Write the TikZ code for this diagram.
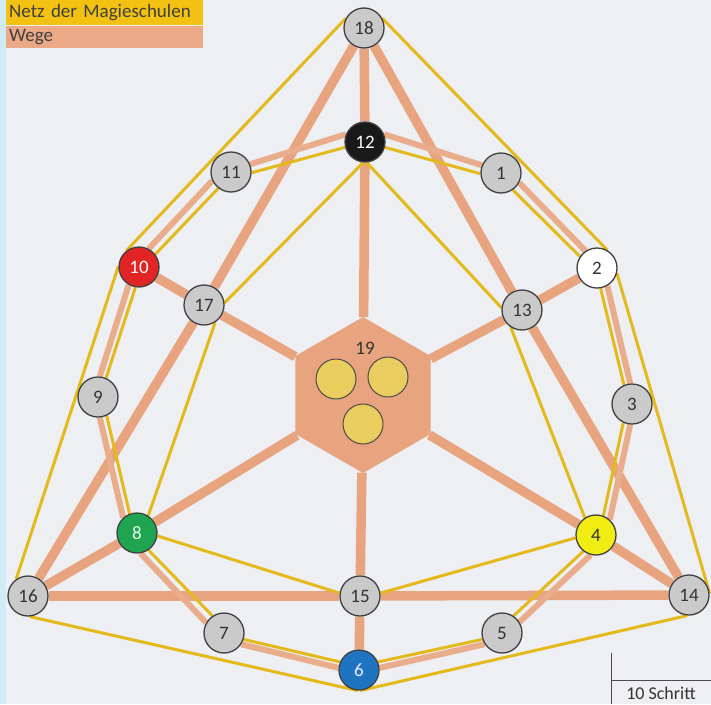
\documentclass[tikz,border=0pt]{standalone}
\usepackage{fontspec}
\setmainfont{Carlito}
\usepackage{tikz}
\usetikzlibrary{shapes,shapes.geometric,positioning,calc}

\definecolor{bggrau}{HTML}{EDEFF2}
\definecolor{randblau}{HTML}{CFEBF5}
\definecolor{netzgelb}{HTML}{E4B91C}
\definecolor{wegorange}{HTML}{E8A47F}
\definecolor{legendgelb}{HTML}{F2C112}
\definecolor{legendorange}{HTML}{EBA985}
\definecolor{schulgrau}{HTML}{CACACA}
\definecolor{kreisgelb}{HTML}{E9CD5E}
\definecolor{schulrot}{HTML}{E32424}
\definecolor{schulgruen}{HTML}{1FA552}
\definecolor{schulgelb}{HTML}{F1EC12}
\definecolor{schulblau}{HTML}{1F74C2}

\pgfdeclarelayer{grund}
\pgfdeclarelayer{wege}
\pgfsetlayers{grund,wege,main}

\begin{document}
\begin{tikzpicture}[x=1pt,y=-1pt,
  schule/.style={circle, draw=black!75, line width=1.3pt, fill=schulgrau,
                 minimum size=40pt, inner sep=0pt, text=black!80,
                 font=\fontsize{19}{19}\selectfont},
  zentrum/.style={regular polygon, regular polygon sides=6, shape border rotate=30,
                  fill=wegorange, minimum size=156pt, inner sep=0pt},
  disc/.style={circle, draw=black!70, line width=1pt, fill=kreisgelb,
               minimum size=40pt, inner sep=0pt},
  weg/.style={draw=wegorange, line width=9.5pt},
  pfad/.style={draw=wegorange!90, line width=6pt},
  netz/.style={draw=netzgelb, line width=3pt},
  legende/.style={anchor=north west, text width=191pt, inner xsep=3pt, inner ysep=0pt,
                  minimum height=24pt, align=left, text=black!75,
                  font=\fontsize{19}{19}\selectfont},
  mass/.style={draw=black!70, line width=0.8pt}
]
\begin{pgfonlayer}{grund}
\fill[bggrau] (0,0) rectangle (711,704);
\fill[randblau] (0,0) rectangle (6,704);
\end{pgfonlayer}
\useasboundingbox (0,0) rectangle (711,704);

\node[zentrum] (n19) at (363,395) {};
\node[text=black!80] (t19) at (365,348) {\fontsize{19}{19}\selectfont 19};
\node[disc] (d19a) at (336,379) {};
\node[disc] (d19b) at (388,377) {};
\node[disc] (d19c) at (363,424) {};

\node[schule] (n18) at (364,28) {18};
\node[schule, fill=black!90, text=white] (n12) at (365,142) {12};
\node[schule] (n11) at (231,172) {11};
\node[schule] (n1) at (501,173) {1};
\node[schule, fill=schulrot, text=white] (n10) at (139,267) {10};
\node[schule, fill=white] (n2) at (597,268) {2};
\node[schule] (n17) at (204,305) {17};
\node[schule] (n13) at (522,310) {13};
\node[schule] (n9) at (98,397) {9};
\node[schule] (n3) at (632,404) {3};
\node[schule, fill=schulgruen, text=green!10] (n8) at (137,533) {8};
\node[schule, fill=schulgelb] (n4) at (596,535) {4};
\node[schule] (n16) at (28,596) {16};
\node[schule] (n15) at (360,596) {15};
\node[schule] (n14) at (689,595) {14};
\node[schule] (n7) at (224,633) {7};
\node[schule] (n5) at (502,633) {5};
\node[schule, fill=schulblau, text=blue!8] (n6) at (359,670) {6};

\begin{pgfonlayer}{wege}
\draw[weg] (n18) -- (n12);
\draw[weg] (n18) -- (n17);
\draw[weg] (n17) -- (n16);
\draw[weg] (n18) -- (n13);
\draw[weg] (n13) -- (n14);
\draw[weg] (n16) -- (n15);
\draw[weg] (n15) -- (n14);
\draw[weg] (n10) -- (n17);
\draw[weg] (n2) -- (n13);
\draw[weg] (n16) -- (n8);
\draw[weg] (n14) -- (n4);
\draw[weg] (n15) -- (n6);
\draw[weg] (n19) -- (n12);
\draw[weg] (n19) -- (n17);
\draw[weg] (n19) -- (n13);
\draw[weg] (n19) -- (n8);
\draw[weg] (n19) -- (n4);
\draw[weg] (n19) -- (n15);

\draw[pfad] (n12.158) -- (n11.22);
\draw[pfad] (n12.22) -- (n1.158);
\draw[pfad] (n11.205) -- (n10.62);
\draw[pfad] (n1.-28) -- (n2.124);
\draw[pfad] (n10.-120) -- (n9.85);
\draw[pfad] (n2.-60) -- (n3.95);
\draw[pfad] (n9.-85) -- (n8.132);
\draw[pfad] (n3.-95) -- (n4.48);
\draw[pfad] (n8.-80) -- (n7.150);
\draw[pfad] (n4.-105) -- (n5.32);
\draw[pfad] (n7.-33) -- (n6.174);
\draw[pfad] (n6.6) -- (n5.213);

\draw[netz] (n18.152) -- (n10.128);
\draw[netz] (n18.28) -- (n2.60);
\draw[netz] (n10.178) -- (n16.125);
\draw[netz] (n2.-15) -- (n14.5);
\draw[netz] (n16.-85) -- (n6.-93);
\draw[netz] (n14.-95) -- (n6.-87);

\draw[netz] (n12.195) -- (n11.-2);
\draw[netz] (n12.-15) -- (n1.182);
\draw[netz] (n11.232) -- (n10.38);
\draw[netz] (n1.-55) -- (n2.146);
\draw[netz] (n10.-100) -- (n9.67);
\draw[netz] (n2.-80) -- (n3.113);
\draw[netz] (n9.-65) -- (n8.111);
\draw[netz] (n3.-115) -- (n4.69);
\draw[netz] (n8.-56) -- (n7.124);
\draw[netz] (n4.-128) -- (n5.56);
\draw[netz] (n7.-18) -- (n6.157);
\draw[netz] (n6.23) -- (n5.198);

\draw[netz] (n12.-95) -- (n17.6);
\draw[netz] (n12.-85) -- (n13.174);
\draw[netz] (n17.-57) -- (n8.57);
\draw[netz] (n13.-123) -- (n4.123);
\draw[netz] (n8.-8) -- (n15.172);
\draw[netz] (n4.188) -- (n15.8);
\end{pgfonlayer}

\node[legende, fill=legendgelb, minimum height=25pt] (legNetz) at (6,0) {Netz der Magieschulen};
\node[legende, fill=legendorange, minimum height=22pt, below=0pt of legNetz.south west, anchor=north west] (legWege) {Wege};

\coordinate (sbOben) at (611,653);
\coordinate (sbUnten) at (611,704);
\coordinate (sbLinks) at (611,680);
\coordinate (sbRechts) at (711,680);
\draw[mass] (sbOben) -- (sbUnten);
\draw[mass] (sbLinks) -- (sbRechts);
\node[text=black!80, font=\fontsize{18}{18}\selectfont] (sbText) at (661,693) {10 Schritt};
\end{tikzpicture}
\end{document}
